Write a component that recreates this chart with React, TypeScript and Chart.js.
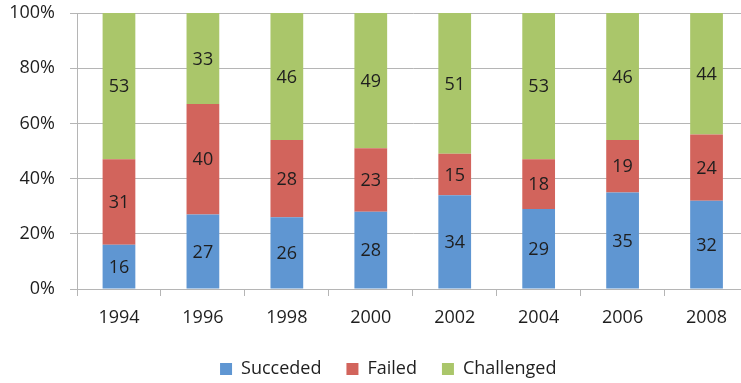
import React, { useEffect, useRef } from "react";
import { Chart, registerables } from "chart.js";

Chart.register(...registerables);

const categories = ["1994", "1996", "1998", "2000", "2002", "2004", "2006", "2008"];
const succeeded = [16, 27, 26, 28, 34, 29, 35, 32];
const failed = [31, 40, 28, 23, 15, 18, 19, 24];
const challenged = [53, 33, 46, 49, 51, 53, 46, 44];
const yTickStep = 20;
const yTickSuffix = "%";

const FONT = "'Open Sans', 'DejaVu Sans', sans-serif";

const valueLabels = {
  id: "valueLabels",
  afterDatasetsDraw(chart: any) {
    const ctx = chart.ctx;
    ctx.save();
    ctx.font = `18px ${FONT}`;
    ctx.fillStyle = "#1e1e1e";
    ctx.textAlign = "center";
    ctx.textBaseline = "middle";
    chart.data.datasets.forEach((ds: any, di: number) => {
      const meta = chart.getDatasetMeta(di);
      meta.data.forEach((bar: any, i: number) => {
        const y = (bar.y + bar.base) / 2;
        ctx.fillText(String(ds.data[i]), bar.x, y + 1);
      });
    });
    ctx.restore();
  },
};

const legendShift = {
  id: "legendShift",
  afterLayout(chart: any) {
    const l = chart.legend;
    if (l) {
      l.left += 14;
      l.right += 14;
    }
  },
};

export default function App() {
  const ref = useRef<HTMLCanvasElement>(null);
  useEffect(() => {
    const canvas = ref.current;
    if (!canvas) return;
    const chart = new Chart(canvas, {
      type: "bar",
      data: {
        labels: categories,
        datasets: [
          { label: "Succeded", data: succeeded, backgroundColor: "rgb(95,150,210)" },
          { label: "Failed", data: failed, backgroundColor: "rgb(210,100,92)" },
          { label: "Challenged", data: challenged, backgroundColor: "rgb(170,198,106)" },
        ],
      },
      options: {
        animation: false,
        responsive: false,
        devicePixelRatio: 1,
        layout: { padding: { left: 0, top: 13, right: 11.5, bottom: 0 } },
        datasets: { bar: { categoryPercentage: 1, barPercentage: 0.39 } },
        plugins: {
          legend: {
            position: "bottom",
            labels: {
              boxWidth: 12,
              boxHeight: 12,
              padding: 25,
              color: "#1e1e1e",
              font: { family: FONT, size: 18 },
            },
          },
          tooltip: { enabled: false },
        },
        scales: {
          x: {
            stacked: true,
            offset: true,
            grid: {
              display: true,
              drawOnChartArea: false,
              drawTicks: true,
              tickLength: 7,
              color: "#b5b5b5",
              offset: true,
            },
            border: { display: true, color: "#b5b5b5" },
            ticks: { color: "#1e1e1e", font: { family: FONT, size: 18 }, padding: 11 },
            afterFit(scale: any) {
              scale.height = 46;
            },
          },
          y: {
            stacked: true,
            min: 0,
            max: 100,
            grid: { color: "#b5b5b5", tickLength: 7, drawTicks: true },
            border: { display: true, color: "#b5b5b5" },
            ticks: {
              stepSize: yTickStep,
              color: "#1e1e1e",
              font: { family: FONT, size: 18 },
              padding: 15,
              callback: (v: any) => v + yTickSuffix,
            },
            afterFit(scale: any) {
              scale.width = 77;
              scale.paddingTop = 0;
              scale.paddingBottom = 0;
            },
          },
        },
      },
      plugins: [valueLabels, legendShift],
    });
    return () => chart.destroy();
  }, []);
  return (
    <div
      style={{
        position: "fixed",
        left: 0,
        top: 0,
        width: 741,
        height: 383,
        overflow: "hidden",
        background: "#fff",
      }}
    >
      <canvas ref={ref} width={760} height={388} style={{ display: "block" }} />
    </div>
  );
}
